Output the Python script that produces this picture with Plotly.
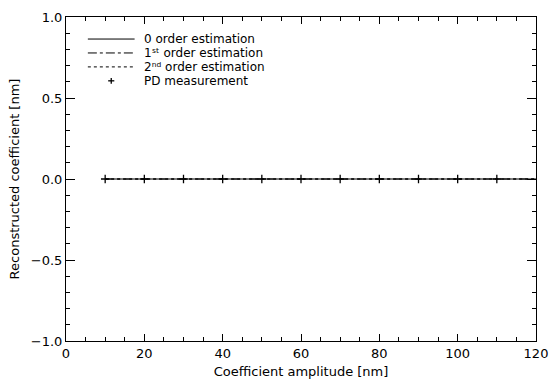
import plotly.graph_objects as go

amplitude = [10, 20, 30, 40, 50, 60, 70, 80, 90, 100, 110, 120]
order0 = [0.0] * 12
order1 = [0.0] * 12
order2 = [0.0] * 12
pd_x = [10, 20, 30, 40, 50, 60, 70, 80, 90, 100, 110]
pd_meas = [0.0, 0.0, 0.0, 0.0, 0.0, 0.0, 0.0, 0.0, 0.0, 0.0, 0.0]

legend_labels = ["0 order estimation", "1\u02e2\u1d57 order estimation",
                 "2\u207f\u1d48 order estimation", "PD measurement"]

FONT = "DejaVu Sans"
FS = 13
fig = go.Figure()
fig.add_trace(go.Scatter(x=amplitude, y=order0, mode="lines",
                         line=dict(color="black", width=1, dash="solid"), showlegend=False))
fig.add_trace(go.Scatter(x=amplitude, y=order1, mode="lines",
                         line=dict(color="black", width=1, dash="dashdot"), showlegend=False))
fig.add_trace(go.Scatter(x=amplitude, y=order2, mode="lines",
                         line=dict(color="black", width=1, dash="dot"), showlegend=False))
fig.add_trace(go.Scatter(x=pd_x, y=pd_meas, mode="markers",
                         marker=dict(symbol="cross-thin", size=6, line=dict(color="black", width=1.3)),
                         showlegend=False))

# manual legend
rows = [0.932, 0.889, 0.846, 0.803]
dashes = ["solid", "dashdot", "dot"]
x0, x1, xt = 0.0465, 0.146, 0.163
for i, d in enumerate(dashes):
    fig.add_shape(type="line", xref="paper", yref="paper", x0=x0, x1=x1, y0=rows[i], y1=rows[i],
                  line=dict(color="black", width=1, dash=d))
xc = (x0 + x1) / 2
dx, dy = 0.0065, 0.009
fig.add_shape(type="line", xref="paper", yref="paper", x0=xc - dx, x1=xc + dx, y0=rows[3], y1=rows[3],
              line=dict(color="black", width=1.3))
fig.add_shape(type="line", xref="paper", yref="paper", x0=xc, x1=xc, y0=rows[3] - dy, y1=rows[3] + dy,
              line=dict(color="black", width=1.3))
for i, lab in enumerate(legend_labels):
    fig.add_annotation(x=xt, y=rows[i], xref="paper", yref="paper", text=lab, showarrow=False,
                       xanchor="left", yanchor="middle", borderpad=0,
                       font=dict(family=FONT, size=12, color="black"))

axis_common = dict(showgrid=False, zeroline=False, showline=True, linecolor="black", linewidth=1,
                   mirror="allticks", ticks="inside", tickcolor="black", tickwidth=1,
                   tickfont=dict(family=FONT, size=FS, color="black"))
fig.update_xaxes(range=[0, 120], tickmode="linear", tick0=0, dtick=20, ticklen=7,
                 minor=dict(ticks="inside", dtick=5, tick0=0, ticklen=4, tickcolor="black", tickwidth=1),
                 title=dict(text="Coefficient amplitude [nm]", font=dict(family=FONT, size=FS, color="black"),
                            standoff=7),
                 **axis_common)
fig.update_yaxes(range=[-1.0, 1.0], tickmode="linear", tick0=0, dtick=0.5, tickformat=".1f", ticklen=9,
                 minor=dict(ticks="inside", dtick=0.1, tick0=0, ticklen=4, tickcolor="black", tickwidth=1),
                 title=dict(text="Reconstructed coefficient [nm]", font=dict(family=FONT, size=FS, color="black"),
                            standoff=8),
                 **axis_common)
fig.update_layout(width=558, height=387, margin=dict(l=66, r=19, t=10, b=43),
                  paper_bgcolor="white", plot_bgcolor="white", showlegend=False)
fig.write_html("out.html")
